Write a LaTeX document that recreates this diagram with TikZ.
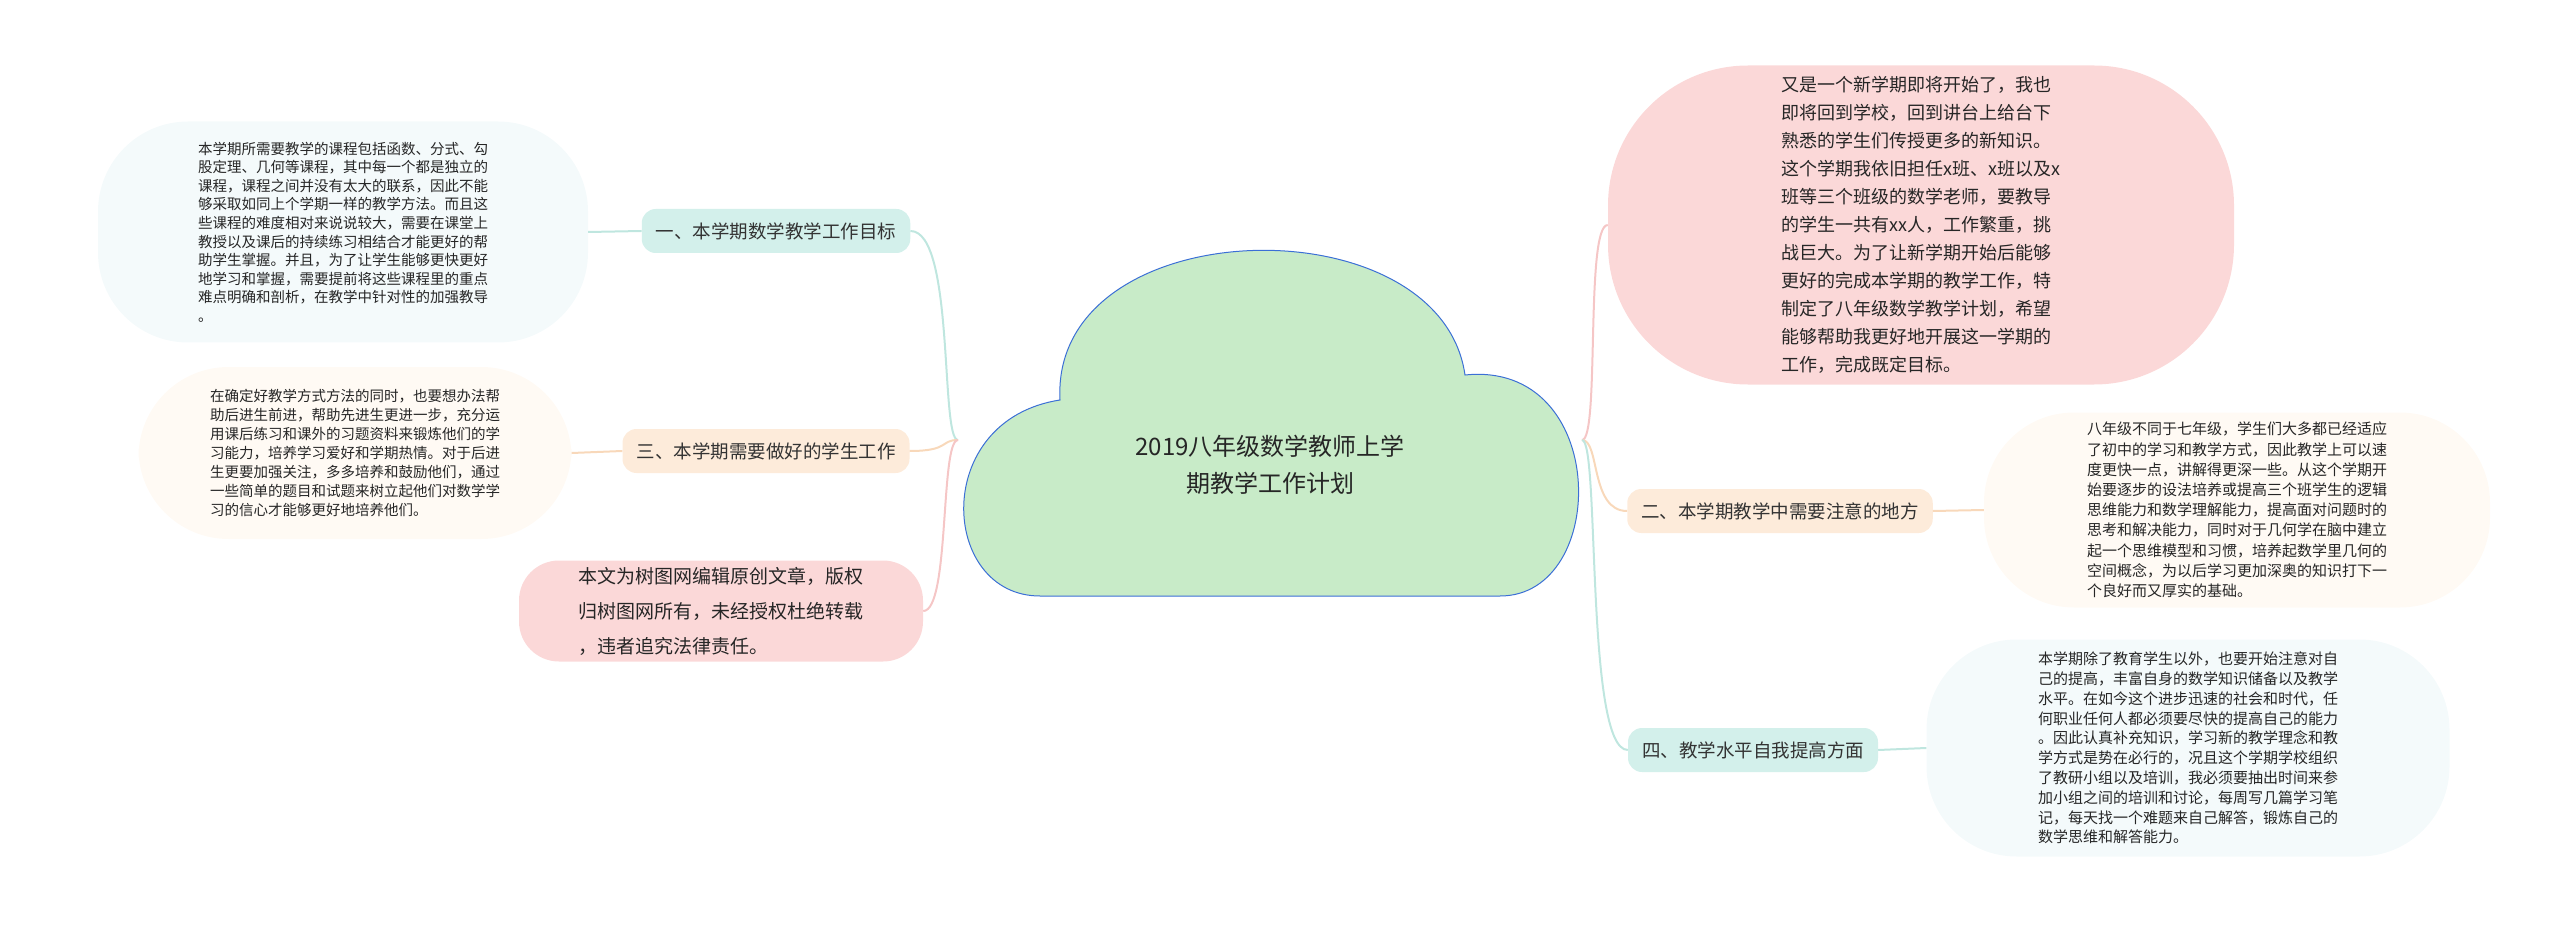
\documentclass[tikz,border=0pt]{standalone}
\usepackage{fontspec}
\setmainfont{Noto Sans CJK SC}
\definecolor{cloudg}{HTML}{C8EBC8}
\definecolor{cloudb}{HTML}{3B6FD6}
\definecolor{tealf}{HTML}{D3F0EB}
\definecolor{orngf}{HTML}{FDEBDA}
\definecolor{pinkf}{HTML}{FBD8D8}
\definecolor{leafT}{HTML}{F4FAFB}
\definecolor{leafO}{HTML}{FFFAF4}
\definecolor{lnT}{HTML}{BFE6DF}
\definecolor{lnO}{HTML}{F8D8BA}
\definecolor{lnP}{HTML}{F5C6C6}
\begin{document}
\begin{tikzpicture}[x=1pt,y=-1pt,
  leaf/.style={rounded corners=90pt, inner sep=0pt, align=left, text=black!85},
  pill/.style={rounded corners=14pt, minimum height=44pt, inner xsep=14pt, font=\fontsize{18.5}{22}\selectfont, text=black!80},
  teal/.style={fill=tealf},
  orng/.style={fill=orngf},
  conT/.style={draw=lnT, line width=2pt},
  conO/.style={draw=lnO, line width=2pt},
  conP/.style={draw=lnP, line width=2pt}]
\useasboundingbox (0,0) rectangle (2560,925);
% cloud
\filldraw[fill=cloudg, draw=cloudb, line width=1pt]
 (1040,596) .. controls (940,596) and (930,420) .. (1060,400)
 .. controls (1050,210) and (1440,200) .. (1465,375)
 .. controls (1610,360) and (1610,596) .. (1500,596) -- cycle;
\node[font=\fontsize{24}{37}\selectfont, align=center, text=black!85] (c) at (1270,465) {2019八年级数学教师上学\\期教学工作计划};
\coordinate (cL) at (958,440);
\coordinate (cR) at (1582,440);
% left side
\node[leaf, fill=leafT, minimum width=490pt, minimum height=221pt, font=\fontsize{14.5}{18.6}\selectfont] (l1) at (343,232)
 {本学期所需要教学的课程包括函数、分式、勾\\股定理、几何等课程，其中每一个都是独立的\\课程，课程之间并没有太大的联系，因此不能\\够采取如同上个学期一样的教学方法。而且这\\些课程的难度相对来说说较大，需要在课堂上\\教授以及课后的持续练习相结合才能更好的帮\\助学生掌握。并且，为了让学生能够更快更好\\地学习和掌握，需要提前将这些课程里的重点\\难点明确和剖析，在教学中针对性的加强教导\\。};
\node[pill, teal] (b1) at (776,231) {一、本学期数学教学工作目标};
\node[leaf, fill=leafO, minimum width=433pt, minimum height=172pt, font=\fontsize{14.5}{19}\selectfont] (l3) at (355,453)
 {在确定好教学方式方法的同时，也要想办法帮\\助后进生前进，帮助先进生更进一步，充分运\\用课后练习和课外的习题资料来锻炼他们的学\\习能力，培养学习爱好和学期热情。对于后进\\生更要加强关注，多多培养和鼓励他们，通过\\一些简单的题目和试题来树立起他们对数学学\\习的信心才能够更好地培养他们。};
\node[pill, orng] (b3) at (766,451) {三、本学期需要做好的学生工作};
\node[rounded corners=40pt, fill=pinkf, minimum width=404pt, minimum height=101pt, align=left, font=\fontsize{19}{35}\selectfont, text=black!85] (p1) at (721,611)
 {本文为树图网编辑原创文章，版权\\归树图网所有，未经授权杜绝转载\\，违者追究法律责任。};
% right side
\node[rounded corners=140pt, fill=pinkf, minimum width=626pt, minimum height=319pt, align=left, font=\fontsize{18}{28}\selectfont, text=black!85] (p2) at (1921,225)
 {又是一个新学期即将开始了，我也\\即将回到学校，回到讲台上给台下\\熟悉的学生们传授更多的新知识。\\这个学期我依旧担任x班、x班以及x\\班等三个班级的数学老师，要教导\\的学生一共有xx人，工作繁重，挑\\战巨大。为了让新学期开始后能够\\更好的完成本学期的教学工作，特\\制定了八年级数学教学计划，希望\\能够帮助我更好地开展这一学期的\\工作，完成既定目标。};
\node[pill, orng] (b2) at (1780,511) {二、本学期教学中需要注意的地方};
\node[leaf, fill=leafO, minimum width=506pt, minimum height=195pt, font=\fontsize{15}{20.2}\selectfont] (l2) at (2237,510)
 {八年级不同于七年级，学生们大多都已经适应\\了初中的学习和教学方式，因此教学上可以速\\度更快一点，讲解得更深一些。从这个学期开\\始要逐步的设法培养或提高三个班学生的逻辑\\思维能力和数学理解能力，提高面对问题时的\\思考和解决能力，同时对于几何学在脑中建立\\起一个思维模型和习惯，培养起数学里几何的\\空间概念，为以后学习更加深奥的知识打下一\\个良好而又厚实的基础。};
\node[pill, teal] (b4) at (1753,750) {四、教学水平自我提高方面};
\node[leaf, fill=leafT, minimum width=523pt, minimum height=217pt, font=\fontsize{15}{19.8}\selectfont] (l4) at (2188,748)
 {本学期除了教育学生以外，也要开始注意对自\\己的提高，丰富自身的数学知识储备以及教学\\水平。在如今这个进步迅速的社会和时代，任\\何职业任何人都必须要尽快的提高自己的能力\\。因此认真补充知识，学习新的教学理念和教\\学方式是势在必行的，况且这个学期学校组织\\了教研小组以及培训，我必须要抽出时间来参\\加小组之间的培训和讨论，每周写几篇学习笔\\记，每天找一个难题来自己解答，锻炼自己的\\数学思维和解答能力。};
% connectors
\draw[conT] (cL) .. controls (940,440) and (955,231) .. (b1.east);
\draw[conO] (cL) .. controls (940,440) and (950,451) .. (b3.east);
\draw[conP] (cL) .. controls (940,440) and (950,611) .. (p1.east);
\draw[conP] (cR) .. controls (1600,440) and (1585,225) .. (p2.west);
\draw[conO] (cR) .. controls (1600,440) and (1590,511) .. (b2.west);
\draw[conT] (cR) .. controls (1600,440) and (1585,750) .. (b4.west);
\draw[conT] (b1.west) -- (l1.east);
\draw[conO] (b3.west) -- (l3.east);
\draw[conO] (b2.east) -- (l2.west);
\draw[conT] (b4.east) -- (l4.west);
\end{tikzpicture}
\end{document}
